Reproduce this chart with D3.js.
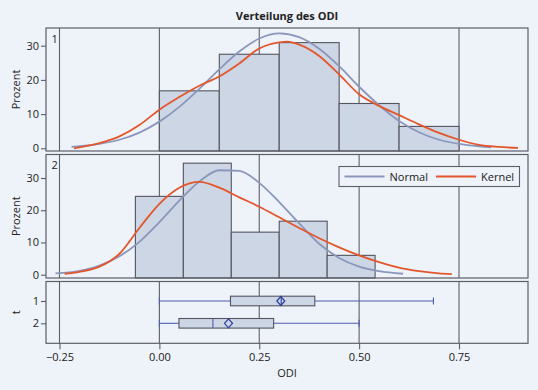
<!DOCTYPE html>
<html><head><meta charset="utf-8">
<script src="https://cdn.jsdelivr.net/npm/d3@7"></script>
<style>
html,body{margin:0;padding:0;background:#EEF2F9;}
svg{display:block;}
text{font-family:"Open Sans",sans-serif;fill:#222;}
</style></head>
<body>
<svg id="c" width="538" height="390"></svg>
<script>
// ---------- data ----------
const title = "Verteilung des ODI";
const xTicks = [-0.25, 0, 0.25, 0.5, 0.75];
const yTicks = [0, 10, 20, 30];
const groups = ["1", "2"];

// histogram group 1 (bin edges and percent)
const bins1 = [0.00, 0.15, 0.30, 0.45, 0.60, 0.75];
const pct1 = [16.8, 27.5, 30.9, 13.1, 6.4];
// histogram group 2
const bins2 = [-0.06, 0.06, 0.18, 0.30, 0.42, 0.54];
const pct2 = [24.3, 34.6, 13.2, 16.6, 6.0];

// fitted normal curve, group 1 (x, percent)
const normal1X = [-0.22,-0.15,-0.10,-0.05,0.00,0.05,0.10,0.15,0.20,0.25,0.30,0.35,0.40,0.45,0.50,0.55,0.60,0.65,0.70,0.75,0.80,0.83];
const normal1Y = [0.4,1.3,2.5,4.6,7.8,12.1,17.4,23.1,28.3,32.1,33.6,32.5,29.1,24.0,18.0,12.6,8.0,4.7,2.5,1.3,0.6,0.3];
// kernel curve, group 1
const kernel1X = [-0.214,-0.15,-0.10,-0.05,0.00,0.05,0.10,0.15,0.20,0.25,0.30,0.32,0.35,0.40,0.45,0.50,0.55,0.60,0.65,0.70,0.75,0.80,0.85,0.898];
const kernel1Y = [0.0,1.5,3.5,6.8,11.3,15.0,18.3,21.0,24.8,29.2,31.0,31.2,30.3,27.0,21.6,15.8,12.4,9.7,7.0,4.5,2.5,1.0,0.4,0.1];
// fitted normal curve, group 2
const normal2X = [-0.26,-0.20,-0.15,-0.10,-0.05,0.00,0.05,0.10,0.15,0.20,0.25,0.30,0.35,0.40,0.45,0.50,0.55,0.61];
const normal2Y = [0.4,1.2,2.8,5.7,10.2,16.3,23.0,28.9,32.4,32.2,28.5,22.5,15.9,9.6,5.2,2.5,1.1,0.3];
// kernel curve, group 2
const kernel2X = [-0.237,-0.20,-0.15,-0.10,-0.05,0.00,0.05,0.10,0.15,0.20,0.25,0.30,0.35,0.40,0.45,0.50,0.55,0.60,0.65,0.70,0.732];
const kernel2Y = [0.3,0.9,2.5,6.5,14.5,22.0,27.0,28.8,27.0,24.0,21.1,17.8,14.5,11.3,8.5,6.0,3.9,2.2,1.1,0.4,0.2];

// box plot statistics per group: [min, q1, median, q3, max, mean]
const boxMin = [0.00, 0.00];
const boxQ1 = [0.178, 0.049];
const boxMed = [0.305, 0.134];
const boxQ3 = [0.389, 0.286];
const boxMax = [0.686, 0.50];
const boxMean = [0.304, 0.173];

const legendLabels = ["Normal", "Kernel"];

// ---------- layout ----------
const C = {
  bg: "#EEF2F9", frame: "#5E5E68", grid: "#5E5E68",
  bar: "#CDD6E5", barStroke: "#55555F",
  normal: "#8A97BB", kernel: "#E3562C",
  whisker: "#4E5DB0", diamond: "#2C3D9E"
};
const L = 46, R = 528;
const panels = [
  {top: 28, bottom: 151, y0: 148.3, y30: 45.7, bins: bins1, pct: pct1, nx: normal1X, ny: normal1Y, kx: kernel1X, ky: kernel1Y, label: "1"},
  {top: 154.5, bottom: 278, y0: 274.7, y30: 178, bins: bins2, pct: pct2, nx: normal2X, ny: normal2Y, kx: kernel2X, ky: kernel2Y, label: "2"}
];
const boxPanel = {top: 281.5, bottom: 343.3};

const svg = d3.select("#c");
const x = d3.scaleLinear().domain([-0.25, 0.75]).range([59.5, 459]);

svg.append("rect").attr("width", 538).attr("height", 390).attr("fill", C.bg);

// title
svg.append("text").attr("x", (L + R) / 2).attr("y", 20).attr("text-anchor", "middle")
  .attr("font-size", 11).attr("font-weight", "bold").text(title);

panels.forEach((p, pi) => {
  const y = d3.scaleLinear().domain([0, 30]).range([p.y0, p.y30]);
  const g = svg.append("g");
  // gridlines
  g.selectAll("line.grid").data(xTicks).join("line")
    .attr("x1", d => x(d)).attr("x2", d => x(d))
    .attr("y1", p.top).attr("y2", p.bottom)
    .attr("stroke", C.grid).attr("stroke-width", 1.1);
  // bars
  g.selectAll("rect.bar").data(p.pct).join("rect")
    .attr("x", (d, i) => x(p.bins[i]))
    .attr("width", (d, i) => x(p.bins[i + 1]) - x(p.bins[i]))
    .attr("y", d => y(d))
    .attr("height", d => p.bottom - y(d))
    .attr("fill", C.bar).attr("stroke", C.barStroke).attr("stroke-width", 1.1);
  // curves
  const line = d3.line().curve(d3.curveMonotoneX);
  g.append("path")
    .attr("d", line(p.nx.map((v, i) => [x(v), y(p.ny[i])])))
    .attr("fill", "none").attr("stroke", C.normal).attr("stroke-width", 1.8);
  g.append("path")
    .attr("d", line(p.kx.map((v, i) => [x(v), y(p.ky[i])])))
    .attr("fill", "none").attr("stroke", C.kernel).attr("stroke-width", 1.8);
  // frame
  g.append("rect").attr("x", L).attr("y", p.top).attr("width", R - L).attr("height", p.bottom - p.top)
    .attr("fill", "none").attr("stroke", C.frame).attr("stroke-width", 1.2);
  // y axis
  const ax = d3.axisLeft(y).tickValues(yTicks).tickSize(5).tickPadding(2).tickFormat(d3.format("d"));
  const ag = svg.append("g").attr("transform", `translate(${L},0)`).call(ax);
  ag.select(".domain").remove();
  ag.selectAll("line").attr("stroke", C.frame).attr("stroke-width", 1.1);
  ag.selectAll("text").attr("font-size", 11).attr("font-family", "Open Sans").attr("fill", "#222");
  // panel label
  svg.append("text").attr("x", 51.5).attr("y", p.top + 14.5).attr("font-size", 11).text(p.label);
  // y title
  svg.append("text").attr("transform", `translate(20,${(p.top + p.bottom) / 2}) rotate(-90)`)
    .attr("text-anchor", "middle").attr("font-size", 11).text("Prozent");
});

// legend in panel 2
const lg = svg.append("g");
lg.append("rect").attr("x", 339).attr("y", 166.5).attr("width", 180.5).attr("height", 20)
  .attr("fill", C.bg).attr("stroke", C.frame).attr("stroke-width", 1.1);
const legItems = [{x1: 344.5, x2: 384.5, tx: 389.5, c: C.normal}, {x1: 436, x2: 476, tx: 481, c: C.kernel}];
legItems.forEach((it, i) => {
  lg.append("line").attr("x1", it.x1).attr("x2", it.x2).attr("y1", 176.5).attr("y2", 176.5)
    .attr("stroke", it.c).attr("stroke-width", 1.8);
  lg.append("text").attr("x", it.tx).attr("y", 180.5).attr("font-size", 11).text(legendLabels[i]);
});

// box plot panel
const yb = d3.scalePoint().domain(groups).range([301, 323.3]);
const bg = svg.append("g");
bg.selectAll("line.grid").data(xTicks).join("line")
  .attr("x1", d => x(d)).attr("x2", d => x(d))
  .attr("y1", boxPanel.top).attr("y2", boxPanel.bottom)
  .attr("stroke", C.grid).attr("stroke-width", 1.1);
groups.forEach((gname, i) => {
  const cy = yb(gname), h = 9.6;
  // whiskers
  bg.append("line").attr("x1", x(boxMin[i])).attr("x2", x(boxQ1[i])).attr("y1", cy).attr("y2", cy)
    .attr("stroke", C.whisker).attr("stroke-width", 1.1);
  bg.append("line").attr("x1", x(boxQ3[i])).attr("x2", x(boxMax[i])).attr("y1", cy).attr("y2", cy)
    .attr("stroke", C.whisker).attr("stroke-width", 1.1);
  [boxMin[i], boxMax[i]].forEach(v => {
    bg.append("line").attr("x1", x(v)).attr("x2", x(v)).attr("y1", cy - 3.5).attr("y2", cy + 3.5)
      .attr("stroke", C.whisker).attr("stroke-width", 1.1);
  });
  // box
  bg.append("rect").attr("x", x(boxQ1[i])).attr("y", cy - h / 2)
    .attr("width", x(boxQ3[i]) - x(boxQ1[i])).attr("height", h)
    .attr("fill", C.bar).attr("stroke", C.barStroke).attr("stroke-width", 1.1);
  // median
  bg.append("line").attr("x1", x(boxMed[i])).attr("x2", x(boxMed[i])).attr("y1", cy - h / 2).attr("y2", cy + h / 2)
    .attr("stroke", i === 0 ? C.diamond : C.whisker).attr("stroke-width", 1.1);
  // mean diamond
  const mx = x(boxMean[i]);
  bg.append("path").attr("d", `M${mx - 4},${cy} L${mx},${cy - 4.5} L${mx + 4},${cy} L${mx},${cy + 4.5} Z`)
    .attr("fill", "none").attr("stroke", C.diamond).attr("stroke-width", 1.2);
});
bg.append("rect").attr("x", L).attr("y", boxPanel.top).attr("width", R - L).attr("height", boxPanel.bottom - boxPanel.top)
  .attr("fill", "none").attr("stroke", C.frame).attr("stroke-width", 1.2);
// y axis for box panel
const bax = svg.append("g").attr("transform", `translate(${L},0)`)
  .call(d3.axisLeft(yb).tickSize(5).tickPadding(2));
bax.select(".domain").remove();
bax.selectAll("line").attr("stroke", C.frame).attr("stroke-width", 1.1);
bax.selectAll("text").attr("font-size", 11).attr("font-family", "Open Sans").attr("fill", "#222");
svg.append("text").attr("transform", `translate(20,${(boxPanel.top + boxPanel.bottom) / 2}) rotate(-90)`)
  .attr("text-anchor", "middle").attr("font-size", 11).text("t");

// x axis
const xax = svg.append("g").attr("transform", `translate(0,${boxPanel.bottom})`)
  .call(d3.axisBottom(x).tickValues(xTicks).tickSize(6).tickPadding(4).tickFormat(d3.format(".2f")));
xax.select(".domain").remove();
xax.selectAll("line").attr("stroke", C.frame).attr("stroke-width", 1.1);
xax.selectAll("text").attr("font-size", 11).attr("font-family", "Open Sans").attr("fill", "#222");
svg.append("text").attr("x", (L + R) / 2).attr("y", 377).attr("text-anchor", "middle").attr("font-size", 11).text("ODI");
</script>
</body></html>
